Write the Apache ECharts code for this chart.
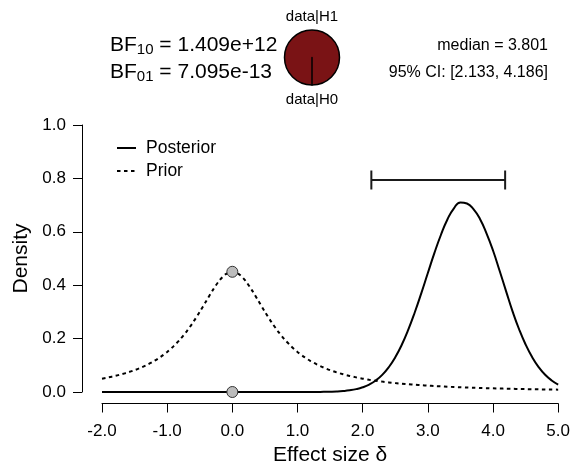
<!DOCTYPE html>
<html>
<head>
<meta charset="utf-8">
<script src="https://cdn.jsdelivr.net/npm/echarts@6/dist/echarts.min.js"></script>
<style>
html,body{margin:0;padding:0;background:#fff;}
#chart{width:573px;height:472px;}
</style>
</head>
<body>
<div id="chart"></div>
<script>
// ---- data ----
var xValues = [-2.0,-1.9,-1.8,-1.7,-1.6,-1.5,-1.4,-1.3,-1.2,-1.1,-1.0,-0.9,-0.8,-0.7,-0.6,-0.5,-0.4,-0.3,-0.2,-0.1,
  0.0,0.1,0.2,0.3,0.4,0.5,0.6,0.7,0.8,0.9,1.0,1.1,1.2,1.3,1.4,1.5,1.6,1.7,1.8,1.9,
  2.0,2.1,2.2,2.3,2.4,2.5,2.6,2.7,2.8,2.9,3.0,3.1,3.2,3.3,3.4,3.5,3.6,3.7,3.8,3.9,
  4.0,4.1,4.2,4.3,4.4,4.5,4.6,4.7,4.8,4.9,5.0];
var priorValues = [0.0500,0.0548,0.0602,0.0664,0.0736,0.0819,0.0915,0.1028,0.1160,0.1316,
  0.1501,0.1718,0.1975,0.2274,0.2617,0.3001,0.3411,0.3815,0.4169,0.4414,
  0.4502,0.4414,0.4169,0.3815,0.3411,0.3001,0.2617,0.2274,0.1975,0.1718,
  0.1501,0.1316,0.1160,0.1028,0.0915,0.0819,0.0736,0.0664,0.0602,0.0548,
  0.0500,0.0458,0.0422,0.0389,0.0360,0.0333,0.0310,0.0289,0.0270,0.0253,
  0.0237,0.0223,0.0210,0.0198,0.0187,0.0177,0.0167,0.0159,0.0151,0.0143,
  0.0136,0.0130,0.0124,0.0119,0.0113,0.0108,0.0104,0.0100,0.0096,0.0092,0.0088];
var posteriorValues = [0,0,0,0,0,0,0,0,0,0,
  0,0,0,0,0,0,0,0,0,0,
  0,0,0,0,0,0,0,0,0,0,
  0.00003,0.00007,0.00014,0.0003,0.0006,0.0011,0.0020,0.0037,0.0064,0.0107,
  0.0176,0.0279,0.0429,0.0641,0.0928,0.130,0.177,0.2335,0.2988,0.3705,
  0.4457,0.520,0.588,0.646,0.688,0.710,0.706,0.685,0.648,0.594,
  0.530,0.455,0.378,0.302,0.2350,0.178,0.131,0.0935,0.0645,0.0432,0.0280];
var ciInterval = [2.133, 4.186];
var ciHeight = 0.794;
var pieValues = [1.409e12, 1];
var pieLabels = ['data|H1', 'data|H0'];
var legendNames = ['Posterior', 'Prior'];
var bfText = {bf10: '1.409e+12', bf01: '7.095e-13'};
var medianText = 'median = 3.801';
var ciText = '95% CI: [2.133, 4.186]';
var xTicks = [-2, -1, 0, 1, 2, 3, 4, 5];
var yTicks = [0, 0.2, 0.4, 0.6, 0.8, 1.0];

function pairs(ys){ return xValues.map(function(x,i){ return [x, ys[i]]; }); }
var zeroIdx = xValues.indexOf(0);

var FONT = '"Liberation Sans", Arial, sans-serif';
var chart = echarts.init(document.getElementById('chart'), null, {renderer:'canvas'});
var option = {
  animation: false,
  backgroundColor: '#ffffff',
  textStyle: {fontFamily: FONT},
  grid: {left: 102, right: 13, top: 125, bottom: 80},
  xAxis: {
    type: 'value', min: xTicks[0], max: xTicks[xTicks.length-1], interval: 1,
    offset: 11.5,
    splitLine: {show: false},
    axisLine: {show: true, onZero: false, lineStyle: {color: '#000', width: 1}},
    axisTick: {show: true, length: 9, lineStyle: {color: '#000', width: 1}},
    axisLabel: {color: '#000', fontSize: 17, margin: 19, fontFamily: FONT,
      formatter: function(v){ return v.toFixed(1); }},
    name: 'Effect size δ', nameLocation: 'middle', nameGap: 41,
    nameTextStyle: {color: '#000', fontSize: 21, fontFamily: FONT}
  },
  yAxis: {
    type: 'value', min: yTicks[0], max: yTicks[yTicks.length-1], interval: 0.2,
    offset: 20,
    splitLine: {show: false},
    axisLine: {show: true, onZero: false, lineStyle: {color: '#000', width: 1}},
    axisTick: {show: true, length: 9, lineStyle: {color: '#000', width: 1}},
    axisLabel: {color: '#000', fontSize: 17, margin: 16, fontFamily: FONT,
      formatter: function(v){ return v.toFixed(1); }},
    name: 'Density', nameLocation: 'middle', nameGap: 42, nameRotate: 90,
    nameTextStyle: {color: '#000', fontSize: 21, fontFamily: FONT}
  },
  series: [
    {
      name: legendNames[0], type: 'line', data: pairs(posteriorValues),
      showSymbol: false, symbol: 'none', smooth: 0.5, silent: true,
      lineStyle: {color: '#000', width: 2}, itemStyle: {color: '#000'}, z: 3
    },
    {
      name: legendNames[1], type: 'line', data: pairs(priorValues),
      showSymbol: false, symbol: 'none', smooth: 0.3, silent: true,
      lineStyle: {color: '#000', width: 2, type: [3.5, 3.5]}, itemStyle: {color: '#000'}, z: 2
    },
    {
      type: 'scatter', silent: true, z: 5,
      data: [[0, priorValues[zeroIdx]], [0, posteriorValues[zeroIdx]]],
      symbol: 'circle', symbolSize: 11,
      itemStyle: {color: '#bcbcbc', borderColor: '#333', borderWidth: 1, opacity: 1}
    },
    {
      type: 'custom', silent: true, z: 4,
      data: [[ciInterval[0], ciInterval[1], ciHeight]],
      renderItem: function(params, api){
        var a = api.coord([api.value(0), api.value(2)]);
        var b = api.coord([api.value(1), api.value(2)]);
        var s = {stroke: '#1a1a1a', lineWidth: 2, fill: null};
        return {type: 'group', children: [
          {type: 'line', shape: {x1: a[0], y1: a[1], x2: b[0], y2: b[1]}, style: s},
          {type: 'line', shape: {x1: a[0], y1: a[1]-9.5, x2: a[0], y2: a[1]+9.5}, style: s},
          {type: 'line', shape: {x1: b[0], y1: b[1]-9.5, x2: b[0], y2: b[1]+9.5}, style: s}
        ]};
      }
    },
    {
      type: 'pie', center: [312, 57.5], radius: 27.5, startAngle: 270, clockwise: true,
      silent: true, minAngle: 0, avoidLabelOverlap: false,
      label: {show: false}, labelLine: {show: false}, emphasis: {disabled: true},
      itemStyle: {color: '#7a1315', borderColor: '#000', borderWidth: 1.5},
      data: [{value: pieValues[0], name: pieLabels[0]}, {value: pieValues[1], name: pieLabels[1]}]
    }
  ],
  graphic: [
    // legend
    {type: 'line', silent: true, shape: {x1: 117, y1: 148, x2: 136, y2: 148},
      style: {stroke: '#000', lineWidth: 2}},
    {type: 'line', silent: true, shape: {x1: 117, y1: 171, x2: 136, y2: 171},
      style: {stroke: '#000', lineWidth: 2, lineDash: [3.5, 3.5]}},
    {type: 'text', x: 146, y: 148, silent: true,
      style: {text: legendNames[0], fontSize: 17.5, fontFamily: FONT, fill: '#000', verticalAlign: 'middle'}},
    {type: 'text', x: 146, y: 171, silent: true,
      style: {text: legendNames[1], fontSize: 17.5, fontFamily: FONT, fill: '#000', verticalAlign: 'middle'}},
    // header
    {type: 'text', left: 110, top: 35, silent: true,
      style: {text: '{a|BF}{s|10}{a| = ' + bfText.bf10 + '}', fill: '#000',
        rich: {a: {fontSize: 21, fontFamily: FONT, fill: '#000'},
               s: {fontSize: 15, fontFamily: FONT, fill: '#000', padding: [9,0,0,0]}}}},
    {type: 'text', left: 110, top: 62, silent: true,
      style: {text: '{a|BF}{s|01}{a| = ' + bfText.bf01 + '}', fill: '#000',
        rich: {a: {fontSize: 21, fontFamily: FONT, fill: '#000'},
               s: {fontSize: 15, fontFamily: FONT, fill: '#000', padding: [9,0,0,0]}}}},
    {type: 'text', x: 312, y: 17, silent: true,
      style: {text: pieLabels[0], fontSize: 15, fontFamily: FONT, fill: '#000', align: 'center', verticalAlign: 'middle'}},
    {type: 'text', x: 312, y: 100, silent: true,
      style: {text: pieLabels[1], fontSize: 15, fontFamily: FONT, fill: '#000', align: 'center', verticalAlign: 'middle'}},
    {type: 'text', x: 548, y: 46, silent: true,
      style: {text: medianText, fontSize: 16, fontFamily: FONT, fill: '#000', align: 'right', verticalAlign: 'middle'}},
    {type: 'text', x: 548, y: 73, silent: true,
      style: {text: ciText, fontSize: 16, fontFamily: FONT, fill: '#000', align: 'right', verticalAlign: 'middle'}}
  ]
};
chart.setOption(option);
</script>
</body>
</html>
